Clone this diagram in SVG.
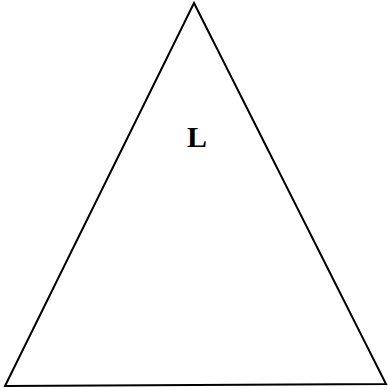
<svg xmlns="http://www.w3.org/2000/svg" width="388" height="390" viewBox="0 0 388 390">
<style>
.shape{fill:none;stroke:#000;stroke-width:2;stroke-linejoin:miter}
.label{font-family:"Liberation Serif","Times New Roman",serif;font-weight:bold;font-size:30px;fill:#000}
</style>
<rect width="388" height="390" fill="#fff"/>
<g id="triangle">
<polygon class="shape" points="194,3 386,384 5,386"/>
<text class="label" x="197" y="147" text-anchor="middle">L</text>
</g>
</svg>
